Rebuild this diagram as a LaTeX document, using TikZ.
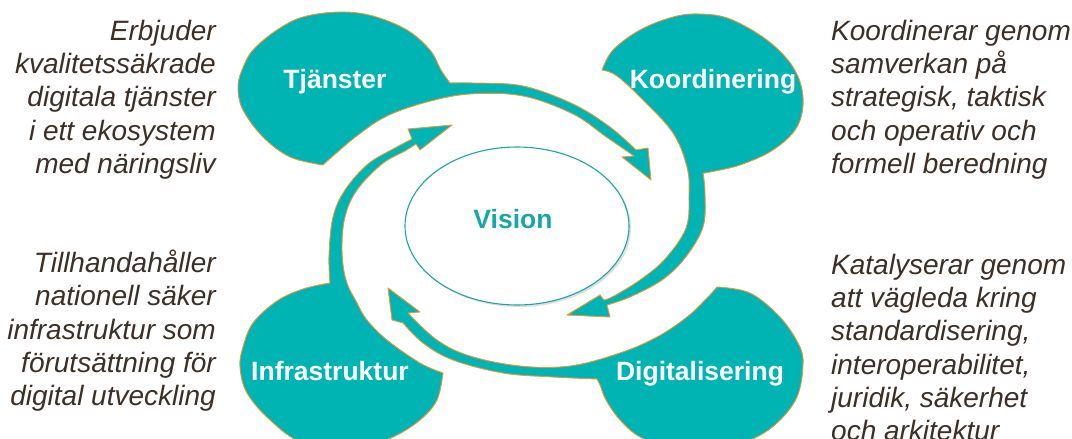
\documentclass[tikz,border=0pt]{standalone}
\usepackage{fontspec}
\setmainfont{Liberation Sans}
\usepackage{xcolor}
\usetikzlibrary{shapes.geometric,shadows}
\definecolor{blobteal}{HTML}{00B4B4}
\definecolor{blobedge}{HTML}{F3952A}
\definecolor{notebrown}{HTML}{3C2F25}
\definecolor{visionteal}{HTML}{17A7A6}

\begin{document}
\begin{tikzpicture}[x=1pt, y=-1pt,
    blob/.style={fill=blobteal, draw=blobedge, line width=0.9pt, line join=round},
    smoothedge/.style={smooth, tension=0.6},
    blobtext/.style={anchor=base, text=white, inner sep=0pt, font=\bfseries\fontsize{26.5}{30}\selectfont},
    sidenote/.style={inner sep=0pt, text=notebrown, font=\itshape\fontsize{28}{33.2}\selectfont}]
\useasboundingbox (0,0) rectangle (1072,439);
\clip (0,0) rectangle (1072,439);

\path[blob] (323,165)
    -- plot[smoothedge] coordinates {(323,165) (290,157) (263,137) (243,110) (238,88) (242,70) (253,50) (277,30) (303,17) (340,12) (373,16) (407,30) (430,50) (441,70) (450,83)}
    -- plot[smoothedge] coordinates {(450,83) (473,83) (523,86) (573,104) (610,127) (636,150)}
    -- (648,148) -- (651,180) -- (622,157) -- (634,156)
    -- plot[smoothedge] coordinates {(634,156) (605,136) (573,114) (523,96) (470,94) (427,102) (387,116) (358,135) (333,156) (323,165)}
    -- cycle;
\path[blob] (602,70)
    -- plot[smoothedge] coordinates {(602,70) (613,50) (640,30) (673,17) (700,14) (730,19) (767,40) (793,67) (803,97) (797,127) (773,150) (740,165) (710,172) (703,173)}
    -- plot[smoothedge] coordinates {(703,173) (705,193) (703,227) (685,258) (662,280) (630,297) (607,305)}
    -- (610,317) -- (567,315) -- (600,295) -- (604,300)
    -- plot[smoothedge] coordinates {(604,300) (614,296) (640,280) (665,259) (686,228) (689,195) (687,167) (673,133) (643,100) (617,76) (602,70)}
    -- cycle;
\path[blob] (717,287)
    -- plot[smoothedge] coordinates {(717,287) (750,293) (780,317) (799,345) (803,365) (797,397) (777,423) (750,440) (710,450) (670,448) (640,437) (620,420) (606,400) (600,385) (597,379)}
    -- plot[smoothedge] coordinates {(597,379) (553,377) (503,373) (453,360) (423,343) (403,323)}
    -- (392,320) -- (388,288) -- (420,312) -- (408,313)
    -- plot[smoothedge] coordinates {(408,313) (437,340) (470,356) (520,366) (570,366) (620,353) (657,337) (687,317) (707,298) (717,287)}
    -- cycle;
\path[blob] (443,373)
    -- plot[smoothedge] coordinates {(443,373) (437,400) (420,420) (393,437) (355,450) (303,443) (270,420) (247,393) (240,367) (243,347) (253,323) (277,301) (303,289) (330,283)}
    -- plot[smoothedge] coordinates {(330,283) (329,255) (333,217) (345,190) (368,164) (395,148) (412,139)}
    -- (408,129) -- (452,125) -- (420,150) -- (416,144)
    -- plot[smoothedge] coordinates {(416,144) (405,151) (382,164) (357,190) (345,217) (342,250) (346,280) (357,303) (367,320) (387,340) (420,363) (443,373)}
    -- cycle;

\node[ellipse, draw=visionteal, line width=1.1pt, fill=white, minimum width=224pt, minimum height=158pt,
    drop shadow={shadow xshift=2pt, shadow yshift=-2pt, fill=black!25}] (ring) at (517,226) {};
\node[blobtext, text=visionteal] (vision) at (513,228) {Vision};

\node[blobtext] (tjanster) at (335,88) {Tjänster};
\node[blobtext] (koordinering) at (713,88) {Koordinering};
\node[blobtext] (infrastruktur) at (330,380) {Infrastruktur};
\node[blobtext] (digitalisering) at (700,380) {Digitalisering};

\node[sidenote, anchor=north east, align=right] (tjanstertext) at (216,20)
    {Erbjuder\\kvalitetssäkrade\\digitala tjänster\\i ett ekosystem\\med näringsliv};
\node[sidenote, anchor=north east, align=right] (infratext) at (216,250)
    {Tillhandahåller\\nationell säker\\infrastruktur som\\förutsättning för\\digital utveckling};
\node[sidenote, anchor=north west, align=left] (koordtext) at (831,20)
    {Koordinerar genom\\samverkan på\\strategisk, taktisk\\och operativ och\\formell beredning};
\node[sidenote, anchor=north west, align=left] (digitext) at (831,254)
    {Katalyserar genom\\att vägleda kring\\standardisering,\\interoperabilitet,\\juridik, säkerhet\\och arkitektur};
\end{tikzpicture}
\end{document}
